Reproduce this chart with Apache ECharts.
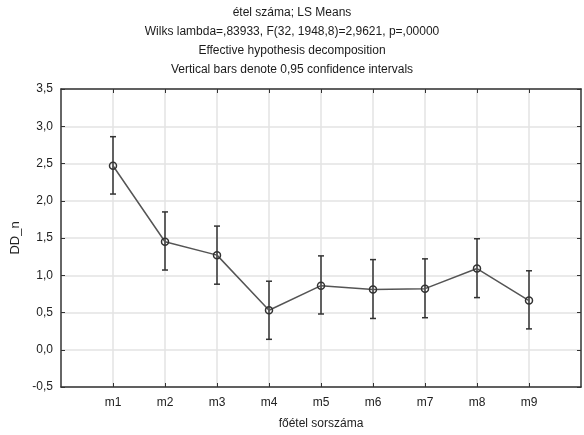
<!DOCTYPE html>
<html>
<head>
<meta charset="utf-8">
<script src="https://cdn.jsdelivr.net/npm/echarts@6/dist/echarts.min.js"></script>
<style>
  html, body { margin: 0; padding: 0; background: #fff; }
  #chart { width: 584px; height: 435px; }
</style>
</head>
<body>
<div id="chart"></div>
<script>
// LS means of DD_n per main course, with 95% confidence limits
const categories = ['m1', 'm2', 'm3', 'm4', 'm5', 'm6', 'm7', 'm8', 'm9'];
const means = [2.47, 1.45, 1.27, 0.53, 0.86, 0.81, 0.82, 1.09, 0.66];
const lower = [2.09, 1.07, 0.88, 0.14, 0.48, 0.42, 0.43, 0.70, 0.28];
const upper = [2.86, 1.85, 1.66, 0.92, 1.26, 1.21, 1.22, 1.49, 1.06];
const yTicks = [-0.5, 0, 0.5, 1, 1.5, 2, 2.5, 3, 3.5];

const titleLines = [
  'étel száma; LS Means',
  'Wilks lambda=,83933, F(32, 1948,8)=2,9621, p=,00000',
  'Effective hypothesis decomposition',
  'Vertical bars denote 0,95 confidence intervals'
];

// one empty slot on each side so the groups sit inside the frame
const axisCats = [''].concat(categories, ['']);
const lineData = means.map((v, i) => [i + 1, v]);
const barData = means.map((v, i) => [i + 1, lower[i], upper[i]]);

const fmt = v => v.toFixed(1).replace('.', ',');
const FONT = 'Liberation Sans, Arial, sans-serif';
const inner = (i) => i > 0 && i < axisCats.length - 1;

const chart = echarts.init(document.getElementById('chart'));

const frameLine = { show: true, onZero: false, lineStyle: { color: '#333', width: 1.5 } };
const tickStyle = { color: '#333', width: 1 };

chart.setOption({
  animation: false,
  backgroundColor: '#fff',
  title: {
    text: titleLines.join('\n'),
    left: 'center',
    top: 3,
    padding: 0,
    textStyle: { fontFamily: FONT, fontSize: 12, fontWeight: 'normal', color: '#1a1a1a', lineHeight: 19 }
  },
  grid: { left: 61, right: 1, top: 89, bottom: 47 },
  xAxis: [
    {
      type: 'category',
      data: axisCats,
      boundaryGap: false,
      name: 'főétel sorszáma',
      nameLocation: 'middle',
      nameGap: 31,
      nameTextStyle: { fontFamily: FONT, fontSize: 12, color: '#222' },
      axisLine: frameLine,
      axisTick: { show: true, inside: true, length: 4, lineStyle: tickStyle, interval: inner },
      axisLabel: { fontFamily: FONT, fontSize: 12, color: '#222', margin: 10, interval: 0 },
      splitLine: { show: true, lineStyle: { color: '#e3e3e3', width: 1.5 }, interval: inner }
    },
    {
      type: 'category',
      data: axisCats,
      boundaryGap: false,
      position: 'top',
      axisLine: frameLine,
      axisTick: { show: true, inside: true, length: 4, lineStyle: tickStyle, interval: inner },
      axisLabel: { show: false },
      splitLine: { show: false }
    }
  ],
  yAxis: [
    {
      type: 'value',
      min: yTicks[0],
      max: yTicks[yTicks.length - 1],
      interval: 0.5,
      name: 'DD_n',
      nameLocation: 'middle',
      nameGap: 37,
      nameTextStyle: { fontFamily: FONT, fontSize: 13, color: '#222' },
      axisLine: frameLine,
      axisTick: { show: true, inside: true, length: 4, lineStyle: tickStyle },
      axisLabel: { fontFamily: FONT, fontSize: 12, color: '#222', margin: 8, formatter: fmt },
      splitLine: { show: true, lineStyle: { color: '#e3e3e3', width: 1.5 } }
    },
    {
      type: 'value',
      min: yTicks[0],
      max: yTicks[yTicks.length - 1],
      interval: 0.5,
      position: 'right',
      axisLine: frameLine,
      axisTick: { show: true, inside: true, length: 4, lineStyle: tickStyle },
      axisLabel: { show: false },
      splitLine: { show: false }
    }
  ],
  series: [
    {
      type: 'custom',
      name: 'CI',
      data: barData,
      z: 3,
      renderItem: function (params, api) {
        const x = api.value(0);
        const lo = api.coord([x, api.value(1)]);
        const hi = api.coord([x, api.value(2)]);
        const cap = 3;
        const style = { stroke: '#333', lineWidth: 1.5 };
        return {
          type: 'group',
          children: [
            { type: 'line', shape: { x1: lo[0], y1: lo[1], x2: hi[0], y2: hi[1] }, style: style },
            { type: 'line', shape: { x1: lo[0] - cap, y1: lo[1], x2: lo[0] + cap, y2: lo[1] }, style: style },
            { type: 'line', shape: { x1: hi[0] - cap, y1: hi[1], x2: hi[0] + cap, y2: hi[1] }, style: style }
          ]
        };
      }
    },
    {
      type: 'line',
      name: 'LS Means',
      data: lineData,
      z: 4,
      symbol: 'circle',
      symbolSize: 7,
      showAllSymbol: true,
      lineStyle: { color: '#555', width: 1.5 },
      itemStyle: { color: 'rgba(255,255,255,0)', borderColor: '#333', borderWidth: 1.5 }
    }
  ]
});
</script>
</body>
</html>
